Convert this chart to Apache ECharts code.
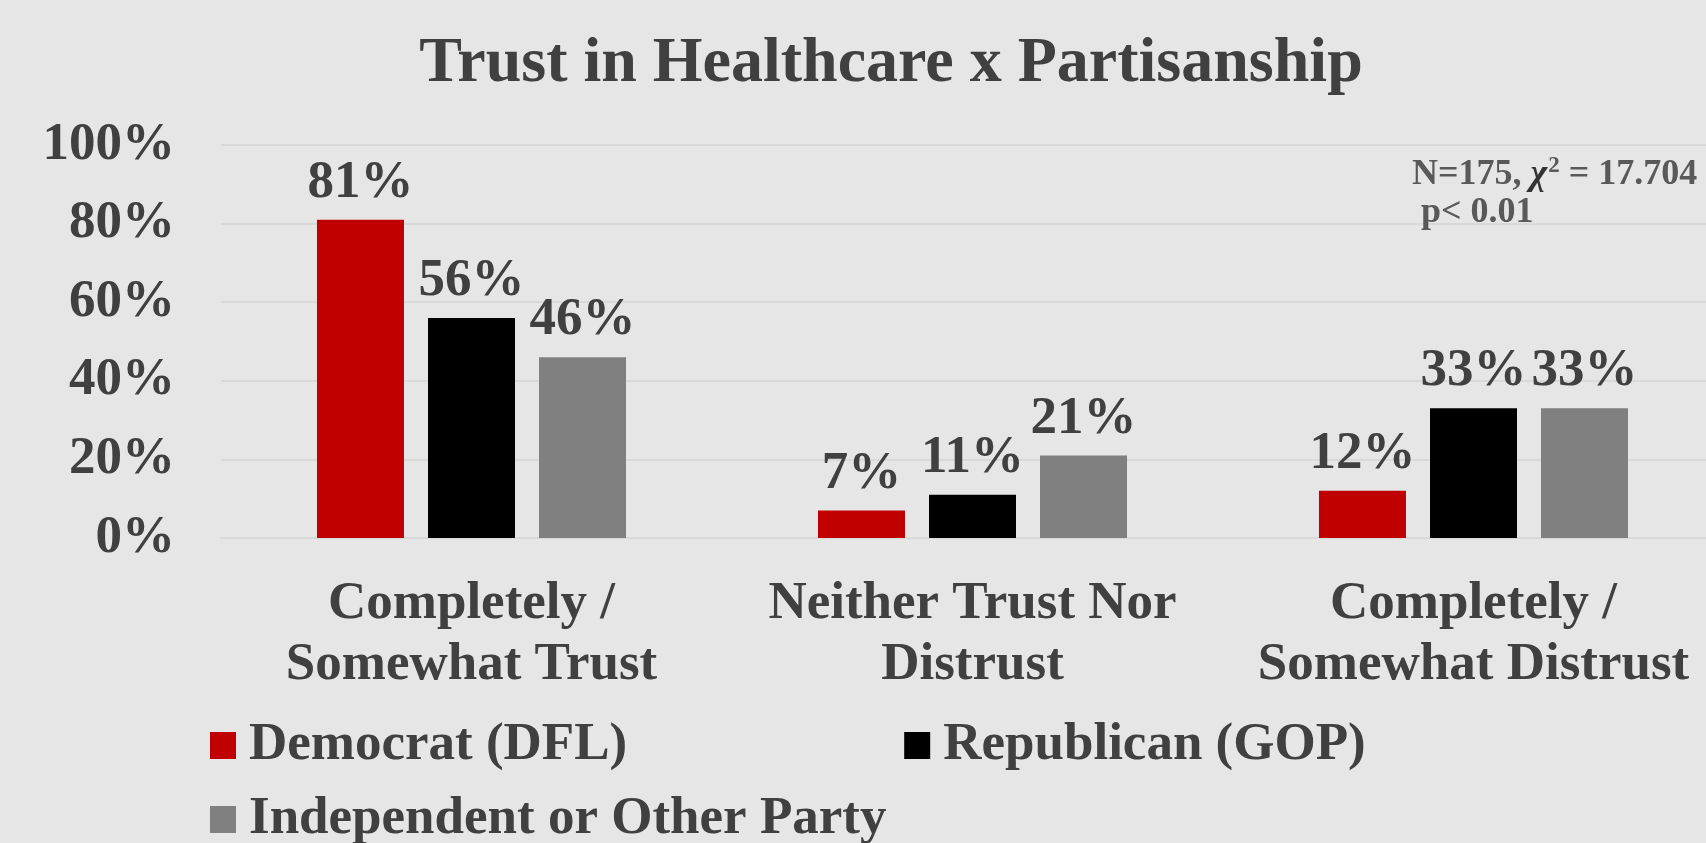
<!DOCTYPE html>
<html>
<head>
<meta charset="utf-8">
<title>Trust in Healthcare x Partisanship</title>
<script src="https://cdn.jsdelivr.net/npm/echarts@6/dist/echarts.min.js"></script>
<style>
  html, body { margin: 0; padding: 0; background: #e6e6e6; }
  #chart { width: 1706px; height: 843px; }
</style>
</head>
<body>
<div id="chart"></div>
<script>
// Response categories on the x axis
const categories = [
  'Completely /\nSomewhat Trust',
  'Neither Trust Nor\nDistrust',
  'Completely /\nSomewhat Distrust'
];

// Share of each party group giving each response (%)
const democrat = [81, 7, 12];
const republican = [56, 11, 33];
const independent = [46, 21, 33];

const seriesNames = ['Democrat (DFL)', 'Republican (GOP)', 'Independent or Other Party'];
const seriesColors = ['#c00000', '#000000', '#808080'];

// Y axis ticks (%)
const yTicks = [0, 20, 40, 60, 80, 100];

// Chi-square test note (rich-text markup for the chi and superscript)
const statText = '{t|N=175, }{chi|\u03c7}{sup|2}{t| = 17.704}\n{t| p< 0.01}';

const FONT = '"Liberation Serif", "Times New Roman", serif';
const TEXT = '#404040';

const chart = echarts.init(document.getElementById('chart'));

const labelStyle = {
  show: true,
  position: 'top',
  distance: 10,
  formatter: '{c}%',
  fontFamily: FONT,
  fontWeight: 'bold',
  fontSize: 53,
  color: TEXT
};

function bar(name, data, color) {
  return {
    name: name,
    type: 'bar',
    data: data,
    barWidth: 87,
    barGap: '27.6%',
    itemStyle: { color: color },
    label: labelStyle,
    emphasis: { disabled: true }
  };
}

const legendText = {
  fontFamily: FONT,
  fontWeight: 'bold',
  fontSize: 53,
  color: TEXT,
  padding: [0, 0, 0, 8]
};

chart.setOption({
  backgroundColor: '#e6e6e6',
  animation: false,
  textStyle: { fontFamily: FONT },
  title: {
    text: 'Trust in Healthcare x Partisanship',
    left: 891,
    top: 32,
    padding: 0,
    textAlign: 'center',
    textStyle: {
      fontFamily: FONT,
      fontWeight: 'bold',
      fontSize: 64,
      color: TEXT
    }
  },
  legend: [
    {
      data: [seriesNames[0], seriesNames[1]],
      left: 210,
      top: 719,
      padding: 0,
      itemGap: 277,
      itemWidth: 26,
      itemHeight: 27,
      icon: 'rect',
      selectedMode: false,
      textStyle: legendText
    },
    {
      data: [seriesNames[2]],
      left: 210,
      top: 793,
      padding: 0,
      itemWidth: 26,
      itemHeight: 27,
      icon: 'rect',
      selectedMode: false,
      textStyle: legendText
    }
  ],
  graphic: [
    {
      type: 'text',
      left: 1412,
      top: 155,
      z: 100,
      style: {
        text: statText,
        rich: {
          t: {
            fontFamily: FONT,
            fontWeight: 'bold',
            fontSize: 36,
            lineHeight: 38,
            fill: '#595959'
          },
          chi: {
            fontFamily: FONT,
            fontStyle: 'italic',
            fontWeight: 'bold',
            fontSize: 36,
            lineHeight: 38,
            fill: '#333333'
          },
          sup: {
            fontFamily: FONT,
            fontWeight: 'bold',
            fontSize: 23,
            lineHeight: 38,
            padding: [0, 0, 16, 1],
            fill: '#595959'
          }
        }
      }
    }
  ],
  grid: {
    left: 221,
    width: 1503,
    top: 145,
    bottom: 305,
    containLabel: false,
    outerBoundsMode: 'none'
  },
  xAxis: {
    type: 'category',
    data: categories,
    axisLine: { show: true, lineStyle: { color: '#d9d9d9', width: 2 } },
    axisTick: { show: false },
    axisLabel: {
      interval: 0,
      margin: 36,
      fontFamily: FONT,
      fontWeight: 'bold',
      fontSize: 53,
      lineHeight: 61,
      color: TEXT
    }
  },
  yAxis: {
    type: 'value',
    min: yTicks[0],
    max: yTicks[yTicks.length - 1],
    interval: yTicks[1] - yTicks[0],
    axisLine: { show: false },
    axisTick: { show: false },
    splitLine: { lineStyle: { color: '#d9d9d9', width: 2 } },
    axisLabel: {
      margin: 46,
      formatter: '{value}%',
      fontFamily: FONT,
      fontWeight: 'bold',
      fontSize: 53,
      color: TEXT
    }
  },
  series: [
    bar(seriesNames[0], democrat, seriesColors[0]),
    bar(seriesNames[1], republican, seriesColors[1]),
    bar(seriesNames[2], independent, seriesColors[2])
  ]
});
</script>
</body>
</html>
